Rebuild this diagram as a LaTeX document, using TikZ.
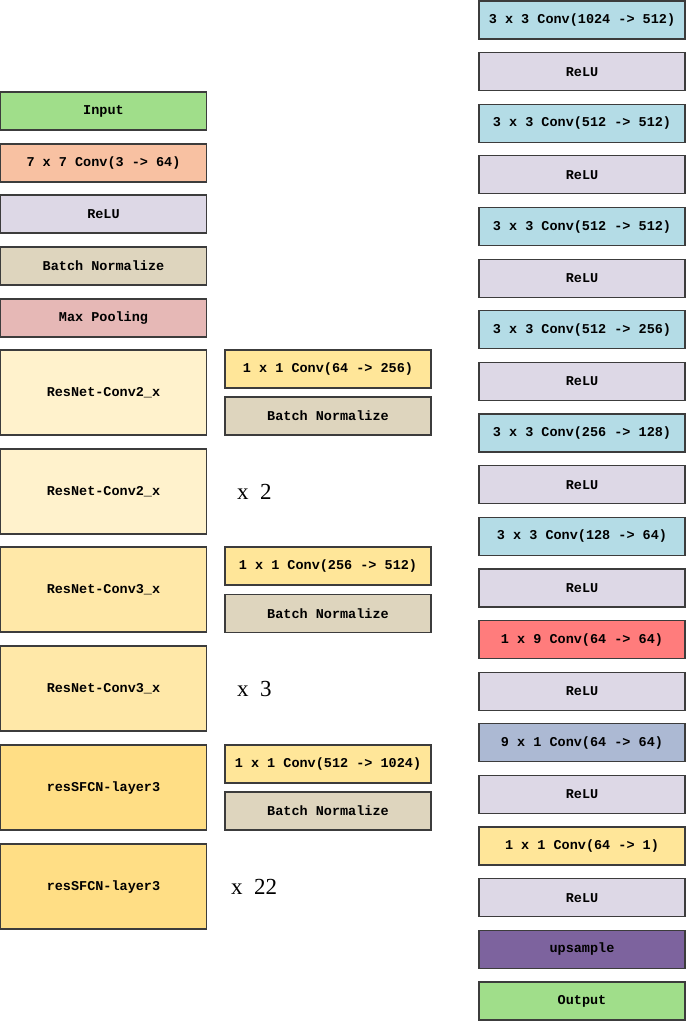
\documentclass[tikz,border=0pt]{standalone}
\usepackage{fontspec}
\setmainfont{Liberation Serif}
\newfontfamily\layerfont{Liberation Mono}

\definecolor{edgegray}{HTML}{3C3C3C}
\definecolor{iogreen}{HTML}{A0DE8A}
\definecolor{convorange}{HTML}{F8C1A2}
\definecolor{relupurple}{HTML}{DDD8E6}
\definecolor{bnbeige}{HTML}{DED5BE}
\definecolor{poolrose}{HTML}{E6B8B6}
\definecolor{resone}{HTML}{FFF2CC}
\definecolor{restwo}{HTML}{FFE8A8}
\definecolor{resthree}{HTML}{FFDE85}
\definecolor{onebyone}{HTML}{FFE699}
\definecolor{convblue}{HTML}{B4DCE6}
\definecolor{convred}{HTML}{FF7C7C}
\definecolor{convslate}{HTML}{ACB9D3}
\definecolor{upviolet}{HTML}{7D639E}

\tikzset{
  layer/.style={draw=edgegray, line width=1.2pt, minimum width=206pt,
    minimum height=38pt, inner sep=0pt, outer sep=0pt,
    font=\layerfont\bfseries\fontsize{13.5}{16}\selectfont},
  block/.style={layer, minimum height=85pt},
  repeat/.style={anchor=west, inner sep=0pt, font=\fontsize{23}{26}\selectfont},
}

\begin{document}
\begin{tikzpicture}[x=1pt,y=-1pt]
    \useasboundingbox (0,0) rectangle (686,1021);

    \node[layer, fill=iogreen]     (input) at (103.5,111) {Input};
    \node[layer, fill=convorange]  (conv7) at (103.5,163) {7 x 7 Conv(3 -> 64)};
    \node[layer, fill=relupurple]  (relu)  at (103.5,214) {ReLU};
    \node[layer, fill=bnbeige]     (bn)    at (103.5,266) {Batch Normalize};
    \node[layer, fill=poolrose]    (pool)  at (103.5,318) {Max Pooling};

    \node[block, fill=resone]   (resA) at (103.5,392.5) {ResNet-Conv2\_x};
    \node[block, fill=resone]   (resB) at (103.5,491.5) {ResNet-Conv2\_x};
    \node[block, fill=restwo]   (resC) at (103.5,589.5) {ResNet-Conv3\_x};
    \node[block, fill=restwo]   (resD) at (103.5,688.5) {ResNet-Conv3\_x};
    \node[block, fill=resthree] (resE) at (103.5,787.5) {resSFCN-layer3};
    \node[block, fill=resthree] (resF) at (103.5,886.5) {resSFCN-layer3};

    \node[layer, fill=onebyone] (downA) at (328,369)   {1 x 1 Conv(64 -> 256)};
    \node[layer, fill=bnbeige]  (bnA)   at (328,416)   {Batch Normalize};
    \node[layer, fill=onebyone] (downC) at (328,566)   {1 x 1 Conv(256 -> 512)};
    \node[layer, fill=bnbeige]  (bnC)   at (328,613.5) {Batch Normalize};
    \node[layer, fill=onebyone] (downE) at (328,764)   {1 x 1 Conv(512 -> 1024)};
    \node[layer, fill=bnbeige]  (bnE)   at (328,811)   {Batch Normalize};

    \node[repeat] (timesB) at (237,491.5) {x\ \ 2};
    \node[repeat] (timesD) at (237,688.5) {x\ \ 3};
    \node[repeat] (timesF) at (231,886.5) {x\ \ 22};

    \foreach \i/\colr/\txt in {
        0/convblue/{3 x 3 Conv(1024 -> 512)}, 1/relupurple/ReLU,
        2/convblue/{3 x 3 Conv(512 -> 512)},  3/relupurple/ReLU,
        4/convblue/{3 x 3 Conv(512 -> 512)},  5/relupurple/ReLU,
        6/convblue/{3 x 3 Conv(512 -> 256)},  7/relupurple/ReLU,
        8/convblue/{3 x 3 Conv(256 -> 128)},  9/relupurple/ReLU,
        10/convblue/{3 x 3 Conv(128 -> 64)},  11/relupurple/ReLU,
        12/convred/{1 x 9 Conv(64 -> 64)},    13/relupurple/ReLU,
        14/convslate/{9 x 1 Conv(64 -> 64)},  15/relupurple/ReLU,
        16/onebyone/{1 x 1 Conv(64 -> 1)},    17/relupurple/ReLU,
        18/upviolet/upsample,                 19/iogreen/Output}
        \node[layer, fill=\colr] (head\i) at (582,20+51.63*\i) {\txt};
\end{tikzpicture}
\end{document}
